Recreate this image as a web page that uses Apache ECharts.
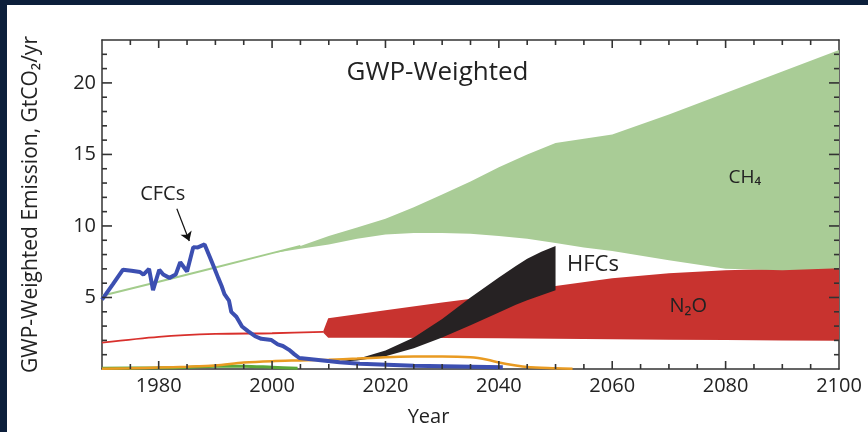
<!DOCTYPE html>
<html>
<head>
<meta charset="utf-8">
<script src="https://cdn.jsdelivr.net/npm/echarts@6/dist/echarts.min.js"></script>
<style>
  html, body { margin:0; padding:0; background:#0c1f3b; width:868px; height:432px; overflow:hidden; }
  #chart { position:absolute; left:7px; top:5px; width:861px; height:427px; background:#ffffff; }
</style>
</head>
<body>
<div id="chart"></div>
<script>
// ---------- data ----------
const xTickLabels = [1980, 2000, 2020, 2040, 2060, 2080, 2100];
const yTickLabels = [5, 10, 15, 20];
const X_MIN = 1970, X_MAX = 2100, Y_MIN = 0, Y_MAX = 23;

// CH4 (GWP-weighted), band: upper / lower scenario
const ch4Years = [1970, 1980, 1990, 2000, 2005, 2010, 2015, 2020, 2025, 2030, 2035, 2040, 2045, 2050, 2055, 2060, 2070, 2080, 2090, 2100];
const ch4Upper = [5.12, 6.1, 7.1, 8.1, 8.6, 9.3, 9.9, 10.5, 11.3, 12.2, 13.1, 14.1, 15.0, 15.8, 16.1, 16.4, 17.8, 19.3, 20.8, 22.3];
const ch4Lower = [5.12, 6.1, 7.1, 8.1, 8.4, 8.7, 9.1, 9.4, 9.5, 9.5, 9.45, 9.3, 9.1, 8.8, 8.5, 8.25, 7.6, 7.0, 6.9, 7.05];

// N2O historical line and projected band
const n2oHistYears = [1970, 1980, 1990, 2000, 2009];
const n2oHistValues = [1.84, 2.25, 2.45, 2.5, 2.6];
const n2oYears = [2009.0, 2009.9, 2020, 2030, 2040, 2050, 2060, 2070, 2080, 2090, 2100];
const n2oUpper = [2.62, 3.54, 4.1, 4.65, 5.15, 5.8, 6.35, 6.7, 6.9, 7.0, 7.1];
const n2oLower = [2.56, 2.18, 2.18, 2.17, 2.15, 2.12, 2.08, 2.05, 2.02, 2.0, 1.97];

// HFC band
const hfcYears = [2010, 2015, 2020, 2025, 2030, 2035, 2040, 2043, 2045, 2047.5, 2050];
const hfcUpper = [0.45, 0.7, 1.3, 2.2, 3.5, 5.0, 6.4, 7.2, 7.7, 8.2, 8.6];
const hfcLower = [0.45, 0.6, 0.9, 1.45, 2.2, 3.05, 3.95, 4.5, 4.8, 5.15, 5.5];

// CFCs
const cfcYears = [1970, 1971.9, 1973.7, 1975.2, 1976.7, 1977.3, 1978.3, 1979.0, 1980.1, 1980.8, 1981.9, 1983.0, 1983.8, 1985.0, 1986.1, 1986.9, 1988.1, 1989.0, 1989.7, 1990.5, 1991.1, 1991.6, 1992.4, 1992.8, 1993.7, 1994.7, 1995.8, 1997.0, 1998.1, 1999.9, 2001.0, 2001.9, 2003.0, 2003.9, 2004.8, 2006.5, 2011.9, 2015.5, 2025, 2040.7];
const cfcValues = [4.85, 5.92, 6.94, 6.87, 6.78, 6.6, 7.0, 5.51, 6.94, 6.6, 6.37, 6.6, 7.46, 6.82, 8.52, 8.5, 8.71, 7.85, 7.17, 6.37, 5.8, 5.24, 4.78, 3.99, 3.65, 2.97, 2.63, 2.29, 2.11, 2.02, 1.72, 1.61, 1.34, 1.04, 0.77, 0.7, 0.47, 0.36, 0.22, 0.12];

// Orange (HCFC) line
const hcfcYears = [1970, 1975, 1980, 1985, 1990, 1995, 2000, 2005, 2010, 2015, 2020, 2025, 2030, 2035, 2038, 2040, 2043, 2045, 2050, 2053];
const hcfcValues = [0.02, 0.05, 0.1, 0.16, 0.25, 0.45, 0.55, 0.6, 0.65, 0.73, 0.82, 0.87, 0.88, 0.82, 0.65, 0.45, 0.24, 0.14, 0.06, 0.02];

// Green bottom line
const otherYears = [1970, 1980, 1985, 1990, 1995, 2000, 2004.5];
const otherValues = [0.05, 0.08, 0.12, 0.2, 0.2, 0.12, 0.05];

// ---------- helpers ----------
const FONT = '"Open Sans", "DejaVu Sans", sans-serif';
const AX = '#333';
const pairs = (xs, ys) => xs.map((x, i) => [x, ys[i]]);

// tick positions (5-year minor ticks on x, 1-unit minor ticks on y)
const xTicks = [];
for (let t = X_MIN + 5; t < X_MAX; t += 5) xTicks.push(t);
const yTicks = [];
for (let v = Y_MIN + 1; v < Y_MAX; v += 1) yTicks.push(v);

function band(name, xs, up, lo, color, z) {
  return {
    type: 'custom', name: name, z: z, clip: true,
    xAxisIndex: 0, yAxisIndex: 0,
    data: [[xs[0], up[0]]],
    renderItem: function (params, api) {
      const pts = [];
      for (let i = 0; i < xs.length; i++) pts.push(api.coord([xs[i], up[i]]));
      for (let i = xs.length - 1; i >= 0; i--) pts.push(api.coord([xs[i], lo[i]]));
      return { type: 'polygon', shape: { points: pts }, style: { fill: color } };
    }
  };
}

// inward-pointing ticks on all four sides, placed through the axes' scales
function tickSeries() {
  return {
    type: 'custom', name: 'ticks', z: 20, clip: false,
    xAxisIndex: 0, yAxisIndex: 0,
    data: [[2035, 11]],
    renderItem: function (params, api) {
      const pts = [];
      const W = 1.6;
      xTicks.forEach(t => {
        const len = xTickLabels.indexOf(t) >= 0 ? 8 : 5;
        const b = api.coord([t, Y_MIN]), tp = api.coord([t, Y_MAX]);
        const x = b[0] - W / 2;
        pts.push({ type: 'rect', shape: { x: x, y: b[1] - len, width: W, height: len }, style: { fill: AX } });
        pts.push({ type: 'rect', shape: { x: x, y: tp[1], width: W, height: len }, style: { fill: AX } });
      });
      yTicks.forEach(v => {
        const len = yTickLabels.indexOf(v) >= 0 ? 10 : 5;
        const l = api.coord([X_MIN, v]), r = api.coord([X_MAX, v]);
        const y = l[1] - W / 2;
        pts.push({ type: 'rect', shape: { x: l[0], y: y, width: len, height: W }, style: { fill: AX } });
        pts.push({ type: 'rect', shape: { x: r[0] - len, y: y, width: len, height: W }, style: { fill: AX } });
      });
      return { type: 'group', children: pts };
    }
  };
}

function xAx(pos, showLabel) {
  return {
    type: 'value', position: pos, min: X_MIN, max: X_MAX, interval: 10,
    axisLine: { show: true, onZero: false, lineStyle: { color: AX, width: 1.5 } },
    axisTick: { show: false },
    axisLabel: { show: showLabel, formatter: v => (xTickLabels.indexOf(v) >= 0 ? String(v) : ''), fontSize: 20, color: '#222', fontFamily: FONT, margin: 7 },
    splitLine: { show: false }
  };
}
function yAx(pos, showLabel) {
  return {
    type: 'value', position: pos, min: Y_MIN, max: Y_MAX, interval: 1,
    axisLine: { show: true, onZero: false, lineStyle: { color: AX, width: 1.5 } },
    axisTick: { show: false },
    axisLabel: { show: showLabel, formatter: v => (yTickLabels.indexOf(v) >= 0 ? String(v) : ''), fontSize: 20, color: '#222', fontFamily: FONT, margin: 6 },
    splitLine: { show: false }
  };
}

const chart = echarts.init(document.getElementById('chart'), null, { renderer: 'canvas' });

const xBottom = xAx('bottom', true);
xBottom.name = 'Year';
xBottom.nameLocation = 'middle';
xBottom.nameGap = 38;
xBottom.nameTextStyle = { fontSize: 20, color: '#222', fontFamily: FONT, padding: [0, 84, 0, 0] };

const yLeft = yAx('left', true);
yLeft.name = 'GWP-Weighted Emission, GtCO\u2082/yr';
yLeft.nameLocation = 'middle';
yLeft.nameGap = 60;
yLeft.nameTextStyle = { fontSize: 21, color: '#222', fontFamily: FONT };

const option = {
  animation: false,
  backgroundColor: '#ffffff',
  grid: { left: 95, right: 29, top: 35, bottom: 55, containLabel: false },
  title: {
    text: 'GWP-Weighted', left: 'center', top: 50,
    textStyle: { fontSize: 26, fontWeight: 'normal', color: '#222', fontFamily: FONT }
  },
  xAxis: [xBottom, xAx('top', false)],
  yAxis: [yLeft, yAx('right', false)],
  series: [
    band('N2O', n2oYears, n2oUpper, n2oLower, '#c8332f', 1),
    band('CH4', ch4Years, ch4Upper, ch4Lower, '#a9cc96', 2),
    band('HFCs', hfcYears, hfcUpper, hfcLower, '#262223', 3),
    {
      type: 'line', name: 'CH4 hist', z: 4, data: pairs(ch4Years.slice(0, 5), ch4Upper.slice(0, 5)),
      showSymbol: false, lineStyle: { color: '#a3cc8c', width: 2 }
    },
    {
      type: 'line', name: 'N2O hist', z: 4, data: pairs(n2oHistYears, n2oHistValues),
      showSymbol: false, smooth: 0.3, lineStyle: { color: '#d8302c', width: 1.8 }
    },
    {
      type: 'line', name: 'Other', z: 5, data: pairs(otherYears, otherValues),
      showSymbol: false, smooth: 0.3, lineStyle: { color: '#5aa83a', width: 3 }
    },
    {
      type: 'line', name: 'HCFCs', z: 6, data: pairs(hcfcYears, hcfcValues),
      showSymbol: false, smooth: 0.3, lineStyle: { color: '#e99b22', width: 2.5 }
    },
    {
      type: 'line', name: 'CFCs', z: 7, data: pairs(cfcYears, cfcValues),
      showSymbol: false, lineStyle: { color: '#3c4fb1', width: 4 },
      markLine: {
        silent: true, symbol: ['none', 'arrow'], symbolSize: 9,
        lineStyle: { color: '#111', width: 1.2, type: 'solid' },
        label: { show: false },
        data: [[{ coord: [1983.2, 11.2] }, { coord: [1985.4, 8.95] }]]
      },
      markPoint: {
        silent: true, symbol: 'circle', symbolSize: 1,
        itemStyle: { color: 'rgba(0,0,0,0)' },
        label: { show: true, position: 'inside', color: '#222', fontFamily: FONT },
        data: [
          { coord: [1980.7, 12.2], label: { formatter: 'CFCs', fontSize: 20 } },
          { coord: [2083.4, 13.4], label: { formatter: 'CH\u2084', fontSize: 19 } },
          { coord: [2056.6, 7.3], label: { formatter: 'HFCs', fontSize: 22 } },
          { coord: [2073.4, 4.4], label: { formatter: 'N\u2082O', fontSize: 20 } }
        ]
      }
    },
    tickSeries()
  ]
};
chart.setOption(option);
</script>
</body>
</html>
